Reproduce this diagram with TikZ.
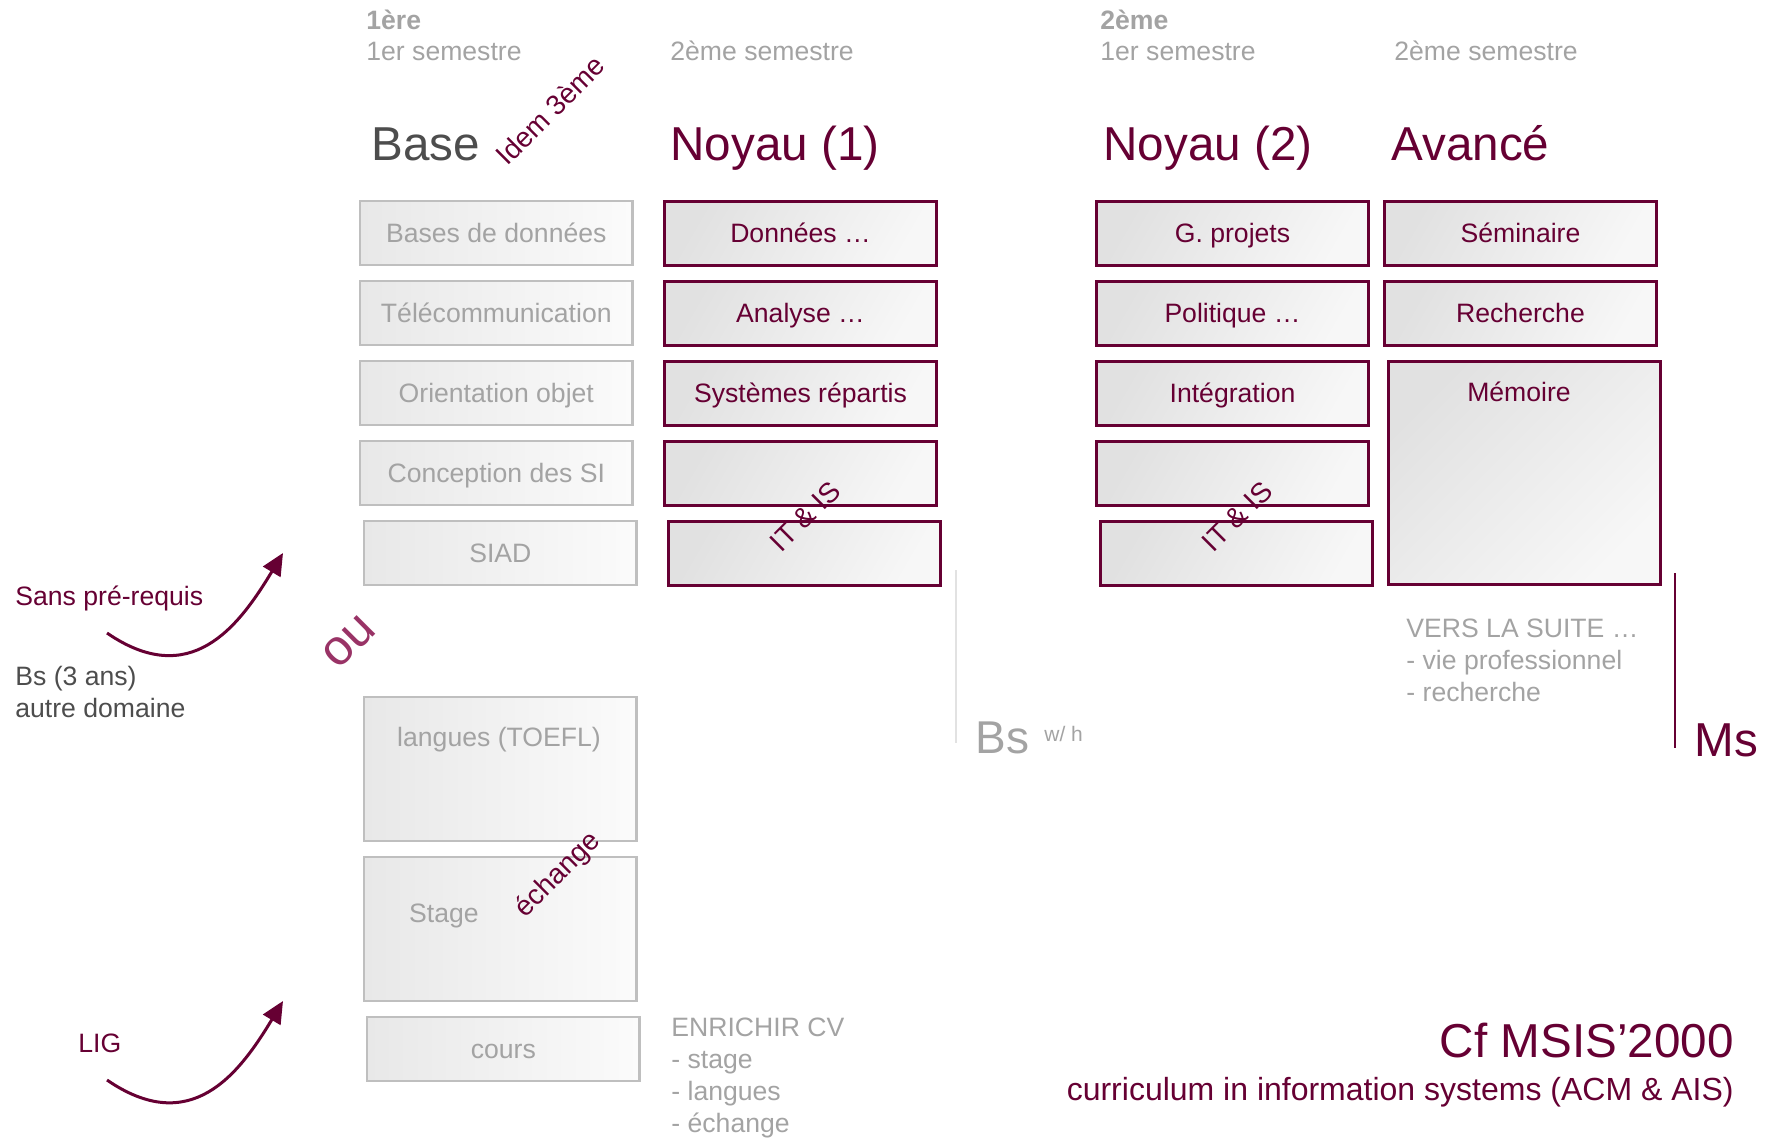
\documentclass[tikz,border=0pt]{standalone}
\usepackage{fontspec}
\setmainfont{Liberation Sans}
\usetikzlibrary{arrows.meta}
\definecolor{purp}{RGB}{102,0,51}
\definecolor{oucol}{RGB}{153,51,102}
\definecolor{gtext}{RGB}{163,163,163}
\definecolor{dgray}{RGB}{77,77,77}
\definecolor{gborder}{RGB}{191,191,191}
\definecolor{gl}{RGB}{232,232,232}
\definecolor{gr}{RGB}{251,251,251}
\definecolor{pl}{RGB}{225,225,225}
\definecolor{pr}{RGB}{247,247,247}
\definecolor{vline}{RGB}{226,226,226}
\newcommand\fszBody{\fontsize{13.3pt}{16pt}\selectfont}
\newcommand\fszBig{\fontsize{23.8pt}{28pt}\selectfont}
\newcommand\fszRot{\fontsize{14pt}{17pt}\selectfont}
\begin{document}
\begin{tikzpicture}[x=0.5pt,y=-0.5pt,
  boxbase/.style={anchor=north west, inner sep=0pt, minimum width=136.2pt, minimum height=32pt,
     font=\fszBody, text height=9.5pt, text depth=0pt},
  gbox/.style={boxbase, draw=gborder, line width=1.1pt, left color=gl, right color=gr, text=gtext},
  pbox/.style={boxbase, draw=purp, line width=1.3pt, top color=pl, bottom color=pr, shading angle=60, text=purp},
  ctxt/.style={inner sep=0pt, font=\fszBody, text height=9.5pt, text depth=0pt},
  txt/.style={inner sep=0pt, anchor=base west, font=\fszBody},
  rottxt/.style={inner sep=0pt, rotate=45, font=\fszRot, text=purp, text height=10pt, text depth=0pt},
  arr/.style={draw=purp, line width=1.5pt, -{Triangle[length=11pt,width=10pt]}},
]
\useasboundingbox (0,0) rectangle (1778,1137);

% column headers
\node[txt, text=gtext, font=\fszBody\bfseries] (y1) at (366,29) {1ère};
\node[txt, text=gtext] (s11) at (366,60) {1er semestre};
\node[txt, text=gtext] (s12) at (670,60) {2ème semestre};
\node[txt, text=gtext, font=\fszBody\bfseries] (y2) at (1100,29) {2ème};
\node[txt, text=gtext] (s21) at (1100,60) {1er semestre};
\node[txt, text=gtext] (s22) at (1394,60) {2ème semestre};

\node[txt, font=\fszBig, text=dgray] (hbase) at (371,160) {Base};
\node[txt, font=\fszBig, text=purp] (hn1) at (670,160) {Noyau (1)};
\node[txt, font=\fszBig, text=purp] (hn2) at (1103,160) {Noyau (2)};
\node[txt, font=\fszBig, text=purp] (hav) at (1391,160) {Avancé};
\node[rottxt] (idem) at (550,110) {Idem 3ème};

% Base column
\node[gbox] (b1) at (359,200) {Bases de données};
\node[gbox] (b2) at (359,280) {Télécommunication};
\node[gbox] (b3) at (359,360) {Orientation objet};
\node[gbox] (b4) at (359,440) {Conception des SI};
\node[gbox] (b5) at (363,520) {SIAD};
\node[gbox, minimum height=72pt] (b6) at (363,696) {};
\node[ctxt, text=gtext] (b6t) at (499,737) {langues (TOEFL)};
\node[gbox, minimum height=72pt] (b7) at (363,856) {};
\node[ctxt, text=gtext] (b7t) at (444,913) {Stage};
\node[gbox] (b8) at (366,1016) {cours};
\node[rottxt] (ech) at (556,873) {échange};

% Noyau (1)
\node[pbox] (n1) at (663,200) {Données …};
\node[pbox] (n2) at (663,280) {Analyse …};
\node[pbox] (n3) at (663,360) {Systèmes répartis};
\node[pbox] (n4) at (663,440) {};
\node[pbox] (n5) at (667,520) {};
\node[rottxt] (itis1) at (805,516) {IT \& IS};

% Noyau (2)
\node[pbox] (m1) at (1095,200) {G. projets};
\node[pbox] (m2) at (1095,280) {Politique …};
\node[pbox] (m3) at (1095,360) {Intégration};
\node[pbox] (m4) at (1095,440) {};
\node[pbox] (m5) at (1099,520) {};
\node[rottxt] (itis2) at (1237,516) {IT \& IS};

% Avance
\node[pbox] (a1) at (1383,200) {Séminaire};
\node[pbox] (a2) at (1383,280) {Recherche};
\node[pbox, minimum width=136.2pt, minimum height=111.5pt, shading angle=45] (a3) at (1387,360) {};
\node[ctxt, text=purp] (a3t) at (1519,392) {Mémoire};

% left side
\node[txt, text=purp] (spr) at (15,605) {Sans pré-requis};
\node[txt, text=dgray] (bs3) at (15,685) {Bs (3 ans)};
\node[txt, text=dgray] (aut) at (15,717) {autre domaine};
\node[txt, text=purp] (lig) at (78,1052) {LIG};
\node[inner sep=0pt, rotate=45, font=\fontsize{25pt}{28pt}\selectfont, text=oucol, text height=13pt, text depth=0pt] (ou) at (349,642) {ou};

\coordinate (s1) at (107,633);
\coordinate (t1) at (283,553);
\coordinate (s2) at (107,1080);
\coordinate (t2) at (283,1001);
\draw[arr] (s1) .. controls (190,690) and (238,628) .. (t1);
\draw[arr] (s2) .. controls (190,1137) and (238,1076) .. (t2);

% Bs / Ms
\coordinate (g1) at (956,570);
\coordinate (g2) at (956,743);
\draw[vline, line width=1pt] (g1) -- (g2);
\node[txt, font=\fontsize{23pt}{27pt}\selectfont, text=gtext] (bs) at (975,753) {Bs};
\node[txt, font=\fontsize{10.5pt}{12pt}\selectfont, text=gtext] (wh) at (1044,741) {w/ h};
\coordinate (p1) at (1675,573);
\coordinate (p2) at (1675,748);
\draw[purp, line width=1.3pt] (p1) -- (p2);
\node[txt, font=\fszBig, text=purp] (ms) at (1694,756) {Ms};

\node[txt, text=gtext] (v1) at (1406,637) {VERS LA SUITE …};
\node[txt, text=gtext] (v2) at (1406,669) {- vie professionnel};
\node[txt, text=gtext] (v3) at (1406,701) {- recherche};

\node[txt, text=gtext] (e1) at (671,1036) {ENRICHIR CV};
\node[txt, text=gtext] (e2) at (671,1068) {- stage};
\node[txt, text=gtext] (e3) at (671,1100) {- langues};
\node[txt, text=gtext] (e4) at (671,1132) {- échange};

\node[inner sep=0pt, anchor=base east, font=\fszBig, text=purp] (cf) at (1734,1057) {Cf MSIS’2000};
\node[inner sep=0pt, anchor=base east, font=\fontsize{16pt}{19pt}\selectfont, text=purp] (cur) at (1734,1100) {curriculum in information systems (ACM \& AIS)};
\end{tikzpicture}
\end{document}
